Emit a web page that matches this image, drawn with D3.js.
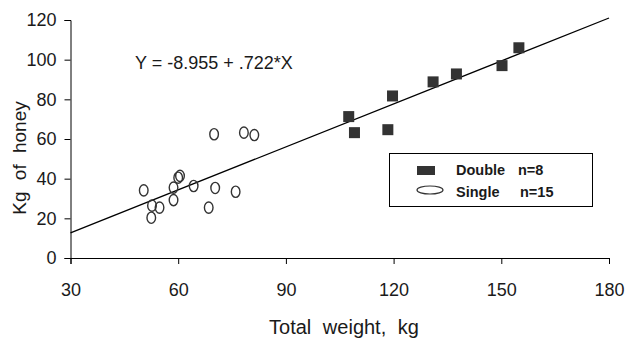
<!DOCTYPE html>
<html>
<head>
<meta charset="utf-8">
<script src="https://cdn.jsdelivr.net/npm/d3@7"></script>
<style>
  body { margin: 0; background: #fff; }
  text { font-family: Arial, "Liberation Sans", sans-serif; fill: #1a1a1a; }
</style>
</head>
<body>
<script>
// values
var doubleWeight = [107.5, 109.1, 118.4, 119.7, 131.0, 137.5, 150.2, 154.9];
var doubleHoney  = [71.3, 63.2, 64.7, 81.7, 88.8, 92.8, 97.0, 106.0];
var singleWeight = [70.0, 78.3, 81.2, 60.0, 60.5, 50.4, 58.7, 64.3, 70.3, 76.0, 58.7, 52.7, 54.8, 68.5, 52.5];
var singleHoney  = [62.4, 63.2, 62.0, 40.5, 41.4, 34.1, 35.5, 36.3, 35.3, 33.4, 29.2, 26.4, 25.4, 25.4, 20.3];
var xTicks = [30, 60, 90, 120, 150, 180];
var yTicks = [0, 20, 40, 60, 80, 100, 120];
var intercept = -8.955;
var slope = 0.722;

var w = 626, h = 339;
var svg = d3.select("body").append("svg")
    .attr("width", w)
    .attr("height", h);

var x = d3.scaleLinear().domain([30, 180]).range([70.5, 609]);
var y = d3.scaleLinear().domain([0, 120]).range([258, 20]);

// axes
svg.append("g")
    .attr("transform", "translate(0,258)")
    .call(d3.axisBottom(x).tickValues(xTicks).tickSize(6).tickPadding(19))
    .call(function(g) {
        g.select(".domain").attr("stroke", "#000");
        g.selectAll("text").attr("font-size", 18).attr("fill", "#1a1a1a");
    });

svg.append("g")
    .attr("transform", "translate(70.5,0)")
    .call(d3.axisLeft(y).tickValues(yTicks).tickSize(6).tickPadding(8))
    .call(function(g) {
        g.select(".domain").attr("stroke", "#000");
        g.selectAll("text").attr("font-size", 18).attr("fill", "#1a1a1a");
    });

// regression line
svg.append("line")
    .attr("x1", x(30)).attr("y1", y(intercept + slope * 30))
    .attr("x2", x(180)).attr("y2", y(intercept + slope * 180))
    .attr("stroke", "#000")
    .attr("stroke-width", 1.3);

// single hives - open circles
svg.selectAll(".single")
    .data(singleWeight)
    .enter()
    .append("ellipse")
    .attr("class", "single")
    .attr("cx", function(d) { return x(d); })
    .attr("cy", function(d, i) { return y(singleHoney[i]); })
    .attr("rx", 4.3)
    .attr("ry", 5.6)
    .attr("fill", "none")
    .attr("stroke", "#333")
    .attr("stroke-width", 1.4);

// double hives - squares
svg.selectAll(".double")
    .data(doubleWeight)
    .enter()
    .append("rect")
    .attr("class", "double")
    .attr("x", function(d) { return x(d) - 5.5; })
    .attr("y", function(d, i) { return y(doubleHoney[i]) - 5.5; })
    .attr("width", 11)
    .attr("height", 11)
    .attr("fill", "#333");

// equation
svg.append("text")
    .attr("x", 135)
    .attr("y", 69)
    .attr("font-size", 18)
    .text("Y = -8.955 + .722*X");

// legend
var lg = svg.append("g");
lg.append("rect")
    .attr("x", 389.5).attr("y", 153.5)
    .attr("width", 203).attr("height", 53)
    .attr("fill", "#fff").attr("stroke", "#000");
lg.append("rect")
    .attr("x", 417).attr("y", 166)
    .attr("width", 18).attr("height", 9)
    .attr("fill", "#333");
lg.append("ellipse")
    .attr("cx", 430).attr("cy", 190)
    .attr("rx", 13).attr("ry", 4)
    .attr("fill", "none").attr("stroke", "#333").attr("stroke-width", 1.2);
var legendRows = [["Double", "n=8", 175, 518], ["Single", "n=15", 197, 520]];
legendRows.forEach(function(r) {
    lg.append("text").attr("x", 456).attr("y", r[2])
        .attr("font-size", 14.5).attr("font-weight", "bold").text(r[0]);
    lg.append("text").attr("x", r[3]).attr("y", r[2])
        .attr("font-size", 14.5).attr("font-weight", "bold").text(r[1]);
});

// axis titles
svg.append("text")
    .attr("x", 344)
    .attr("y", 334)
    .attr("text-anchor", "middle")
    .attr("font-size", 20)
    .attr("word-spacing", 6)
    .attr("fill", "#333")
    .text("Total weight, kg");

svg.append("text")
    .attr("transform", "translate(26,158) rotate(-90)")
    .attr("text-anchor", "middle")
    .attr("font-size", 19)
    .attr("word-spacing", 6)
    .attr("fill", "#333")
    .text("Kg of honey");
</script>
</body>
</html>
